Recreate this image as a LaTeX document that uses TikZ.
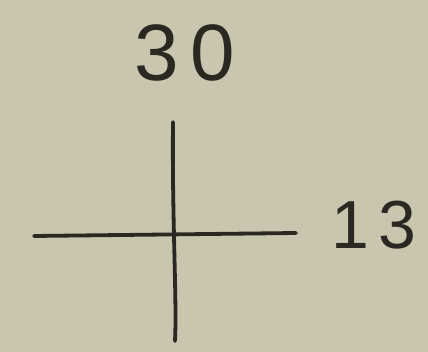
\documentclass[tikz,border=0pt]{standalone}
\usepackage{fontspec}
\setmainfont{Liberation Sans}
\definecolor{paper}{HTML}{C9C5AF}
\definecolor{ink}{HTML}{2B2821}
\begin{document}
\begin{tikzpicture}[x=1pt,y=-1pt,
  stroke/.style={draw=ink,line width=3.8pt,line cap=round},
  label/.style={text=ink,inner sep=0pt,anchor=center}]
\fill[paper] (0,0) rectangle (428,352);
\useasboundingbox (0,0) rectangle (428,352);
\coordinate (vt) at (173,122);
\coordinate (vb) at (175,341);
\coordinate (hl) at (34,236);
\coordinate (hr) at (296,233);
\draw[stroke] (vt) .. controls (172,220) and (177,300) .. (vb);
\draw[stroke] (hl) -- (hr);
\node[label,font=\fontsize{80}{80}\selectfont] (t30) at (185,53) {3\hspace{12pt}0};
\node[label,font=\fontsize{68}{68}\selectfont] (t13) at (374,225) {1\hspace{10pt}3};
\end{tikzpicture}
\end{document}
